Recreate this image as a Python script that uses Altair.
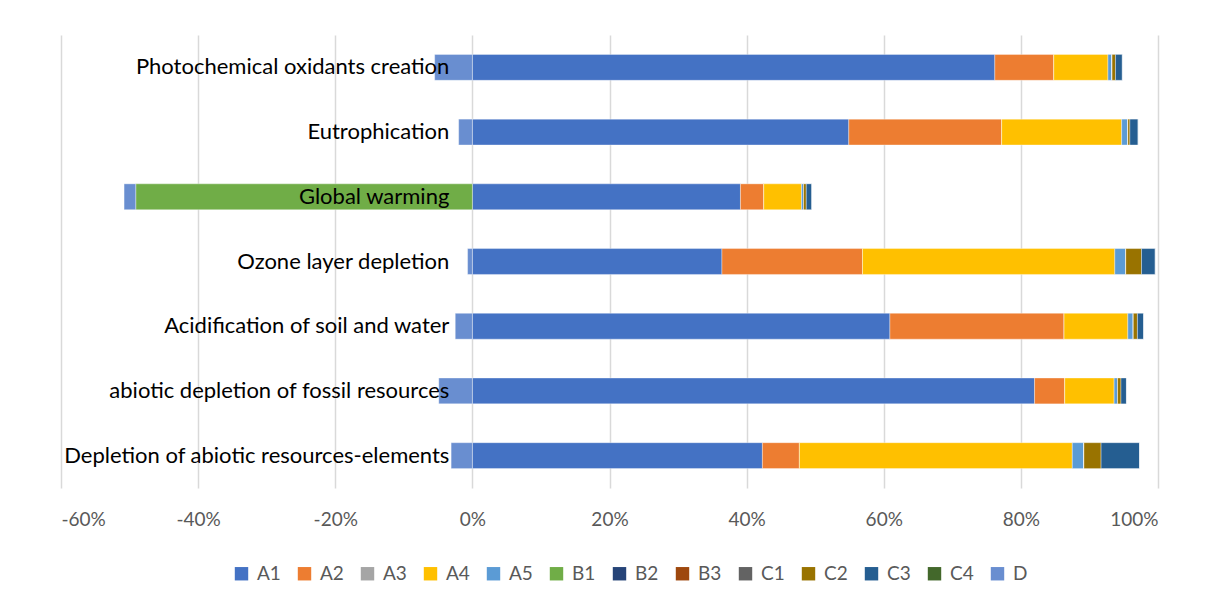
import altair as alt
import pandas as pd

categories = [
    "Photochemical oxidants creation",
    "Eutrophication",
    "Global warming",
    "Ozone layer depletion",
    "Acidification of soil and water",
    "abiotic depletion of fossil resources",
    "Depletion of abiotic resources-elements",
]
series = ["A1", "A2", "A3", "A4", "A5", "B1", "B2", "B3", "C1", "C2", "C3", "C4", "D"]
colors = ["#4472C4", "#ED7D31", "#A5A5A5", "#FFC000", "#5B9BD5", "#70AD47", "#264478",
          "#9E480E", "#636363", "#997300", "#255E91", "#43682B", "#698ED0"]
tick_values = [-0.6, -0.4, -0.2, 0, 0.2, 0.4, 0.6, 0.8, 1.0]

# values in % per category (same order as categories)
A1 = [76.2, 54.9, 39.1, 36.4, 60.9, 82.0, 42.3]
A2 = [8.6, 22.3, 3.4, 20.5, 25.4, 4.4, 5.4]
A3 = [0, 0, 0, 0, 0, 0, 0]
A4 = [7.9, 17.5, 5.5, 36.8, 9.3, 7.2, 39.8]
A5 = [0.6, 0.9, 0.3, 1.6, 0.8, 0.5, 1.7]
B1 = [0, 0, -49.1, 0, 0, 0, 0]
B2 = [0, 0, 0, 0, 0, 0, 0]
B3 = [0, 0, 0, 0, 0, 0, 0]
C1 = [0, 0, 0, 0, 0, 0, 0]
C2 = [0.5, 0.3, 0.4, 2.3, 0.6, 0.5, 2.5]
C3 = [1.0, 1.2, 0.8, 2.0, 0.9, 0.8, 5.6]
C4 = [0, 0, 0, 0, 0, 0, 0]
D = [-5.5, -2.0, -1.7, -0.7, -2.5, -4.9, -3.1]

vals = [A1, A2, A3, A4, A5, B1, B2, B3, C1, C2, C3, C4, D]
rows = []
for si, (s, v) in enumerate(zip(series, vals)):
    for ci, c in enumerate(categories):
        rows.append({"cat": c, "series": s, "order": si, "value": v[ci] / 100})
df = pd.DataFrame(rows)
labels_df = pd.DataFrame({"cat": categories, "zero": [0] * len(categories)})

FONT = "Lato"
ydef = alt.Y("cat:N", sort=categories, axis=None,
             scale=alt.Scale(paddingInner=0.6, paddingOuter=0.3))

bars = alt.Chart(df).mark_bar(stroke="white", strokeWidth=0.6, strokeOpacity=0.6).encode(
    x=alt.X("value:Q", stack="zero",
            scale=alt.Scale(domain=[-0.6, 1.0], nice=False),
            axis=alt.Axis(values=tick_values,
                          labelExpr="round(datum.value * 100) + '%'",
                          title=None, domain=False, ticks=False, grid=True,
                          gridColor="#d9d9d9", gridWidth=1.5,
                          labelFont=FONT, labelFontSize=19, labelColor="#595959",
                          labelPadding=22)),
    y=ydef,
    color=alt.Color("series:N", scale=alt.Scale(domain=series, range=colors),
                    legend=alt.Legend(title=None, orient="none", direction="horizontal",
                                      columns=13, legendX=171, legendY=529,
                                      symbolType="square", symbolSize=180,
                                      symbolStrokeWidth=0, labelFont=FONT,
                                      labelFontSize=19, labelColor="#595959",
                                      columnPadding=14, labelOffset=6)),
    order=alt.Order("order:Q"),
)

texts = alt.Chart(labels_df).mark_text(align="right", baseline="middle", dx=-23,
                                       font=FONT, fontSize=22, color="black").encode(
    x=alt.X("zero:Q"),
    y=ydef,
    text="cat:N",
)

chart = alt.layer(bars, texts).properties(
    width=1097, height=453,
    autosize=alt.AutoSizeParams(type="none"),
    padding={"left": 53, "top": 27, "right": 40, "bottom": 100},
).configure_view(stroke=None)

chart.save("out.html", embed_options={"renderer": "svg", "actions": False})
